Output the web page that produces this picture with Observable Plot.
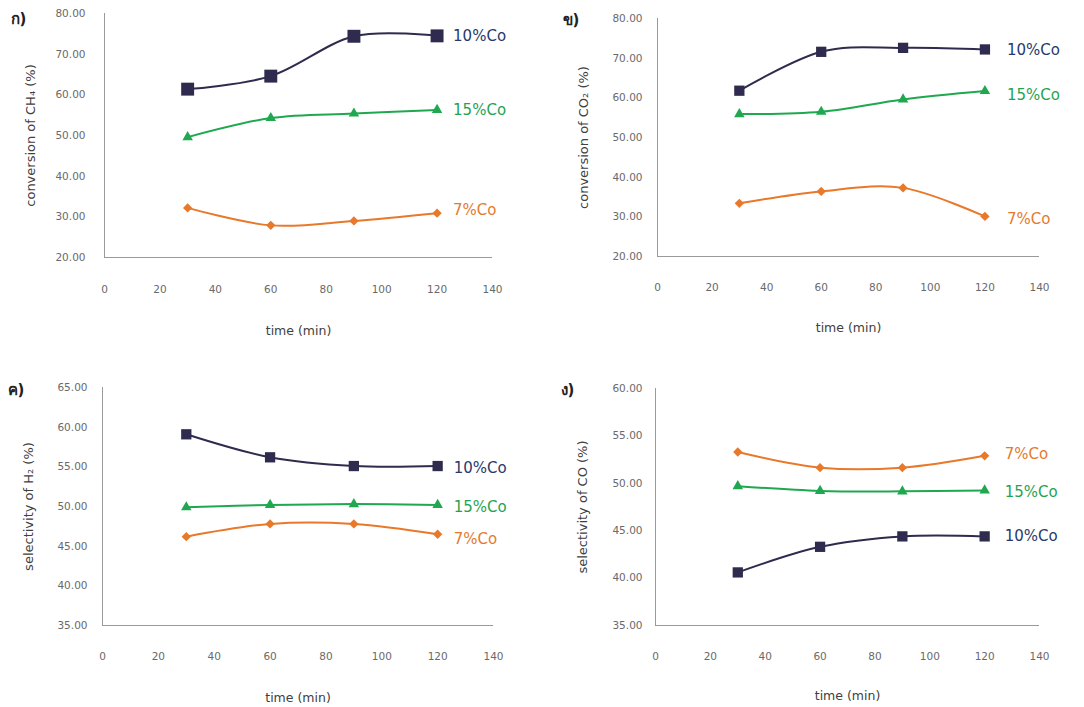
<!DOCTYPE html>
<html><head><meta charset="utf-8">
<script src="https://cdn.jsdelivr.net/npm/d3@7"></script>
<script src="https://cdn.jsdelivr.net/npm/@observablehq/plot@0.6"></script>
<style>
body{margin:0;background:#fff;}
#wrap{position:relative;width:1084px;height:707px;background:#fff;overflow:hidden;}
.panel{position:absolute;}
</style></head><body><div id="wrap"></div>
<script>
// ---- data ----
const times = [30, 60, 90, 120];
const seriesNames = ["10%Co", "15%Co", "7%Co"];
const xTicks = [0, 20, 40, 60, 80, 100, 120, 140];

const ch4_10 = [61.4, 64.6, 74.4, 74.5];
const ch4_15 = [49.6, 54.3, 55.4, 56.3];
const ch4_7  = [32.2, 27.9, 29.0, 30.9];
const ch4Ticks = [20, 30, 40, 50, 60, 70, 80];

const co2_10 = [61.8, 71.6, 72.6, 72.2];
const co2_15 = [55.9, 56.5, 59.6, 61.7];
const co2_7  = [33.4, 36.4, 37.3, 30.1];
const co2Ticks = [20, 30, 40, 50, 60, 70, 80];

const h2_10 = [59.1, 56.2, 55.1, 55.1];
const h2_15 = [49.9, 50.2, 50.3, 50.2];
const h2_7  = [46.2, 47.8, 47.8, 46.5];
const h2Ticks = [35, 40, 45, 50, 55, 60, 65];

const co_10 = [40.6, 43.3, 44.4, 44.4];
const co_15 = [49.7, 49.2, 49.15, 49.25];
const co_7  = [53.3, 51.65, 51.65, 52.9];
const coTicks = [35, 40, 45, 50, 55, 60];

// ---- styles ----
const FONT = "'DejaVu Sans', 'Noto Sans', sans-serif";
const lineColors = {"10%Co": "#2f2b4e", "15%Co": "#1fa84f", "7%Co": "#e8782a"};
const labelColors = {"10%Co": "#283a6c", "15%Co": "#1fa452", "7%Co": "#e47b30"};
const symbols = {"10%Co": "square", "15%Co": "triangle", "7%Co": "diamond2"};

const panels = [
  {left: 0, top: 0, width: 540, height: 345, mL: 104, mR: 48, mT: 13, mB: 88,
   ticks: ch4Ticks, values: [ch4_10, ch4_15, ch4_7], tag: "ก)", tagDx: -94, tagDy: 6,
   yTitle: "conversion of CH\u2084 (%)", yTitleDx: -74, tickPad: 19, xPad: 28, xTitleDy: 73,
   r: {"10%Co": 7.3, "15%Co": 3.9, "7%Co": 4.2}, lab: {"10%Co": 0, "15%Co": 0, "7%Co": -3}, labDx: 16},
  {left: 540, top: 0, width: 544, height: 345, mL: 117, mR: 45, mT: 18, mB: 89,
   ticks: co2Ticks, values: [co2_10, co2_15, co2_7], tag: "ข)", tagDx: -95, tagDy: 2,
   yTitle: "conversion of CO\u2082 (%)", yTitleDx: -74, tickPad: 15, xPad: 27, xTitleDy: 71,
   r: {"10%Co": 5.8, "15%Co": 3.9, "7%Co": 4.2}, lab: {"10%Co": 1, "15%Co": 4, "7%Co": 3}, labDx: 22},
  {left: 0, top: 370, width: 540, height: 337, mL: 102, mR: 47, mT: 17, mB: 82,
   ticks: h2Ticks, values: [h2_10, h2_15, h2_7], tag: "ค)", tagDx: -95, tagDy: 3,
   yTitle: "selectivity of H\u2082 (%)", yTitleDx: -74, tickPad: 15, xPad: 27, xTitleDy: 72,
   r: {"10%Co": 5.8, "15%Co": 3.9, "7%Co": 4.2}, lab: {"10%Co": 2, "15%Co": 2, "7%Co": 5}, labDx: 16},
  {left: 540, top: 370, width: 544, height: 337, mL: 115, mR: 45, mT: 18, mB: 82,
   ticks: coTicks, values: [co_10, co_15, co_7], tag: "ง)", tagDx: -95, tagDy: 2,
   yTitle: "selectivity of CO (%)", yTitleDx: -73, tickPad: 13, xPad: 27, xTitleDy: 70,
   r: {"10%Co": 5.8, "15%Co": 3.9, "7%Co": 4.2}, lab: {"10%Co": 0, "15%Co": 2, "7%Co": -2}, labDx: 20}
];

const wrap = document.getElementById("wrap");

for (const p of panels) {
  const yMin = p.ticks[0], yMax = p.ticks[p.ticks.length - 1];
  const marks = [
    Plot.axisX({ticks: xTicks, tickSize: 0, tickPadding: p.xPad, fontSize: 10.5, fill: "#6a6a6a", label: null}),
    Plot.axisY({ticks: p.ticks, tickSize: 0, tickPadding: p.tickPad, fontSize: 10.5, fill: "#6a6a6a",
                tickFormat: d => d.toFixed(2), label: null}),
    Plot.ruleX([0], {stroke: "#9a9a9a", strokeWidth: 1}),
    Plot.ruleY([yMin], {stroke: "#9a9a9a", strokeWidth: 1})
  ];
  seriesNames.forEach((name, i) => {
    const rows = times.map((t, j) => ({t, v: p.values[i][j]}));
    marks.push(Plot.line(rows, {x: "t", y: "v", stroke: lineColors[name], strokeWidth: 2,
                                curve: "cardinal", tension: 0}));
    marks.push(Plot.dot(rows, {x: "t", y: "v", symbol: symbols[name], fill: lineColors[name],
                               stroke: "none", r: p.r[name]}));
    marks.push(Plot.text([rows[rows.length - 1]], {x: "t", y: "v", text: () => name,
                               fill: labelColors[name], fontSize: 15, textAnchor: "start",
                               dx: p.labDx, dy: p.lab[name]}));
  });
  marks.push(Plot.text([p.yTitle], {frameAnchor: "left", rotate: -90, dx: p.yTitleDx,
                                    textAnchor: "middle", lineAnchor: "middle",
                                    fontSize: 13, fill: "#404040"}));
  marks.push(Plot.text(["time (min)"], {frameAnchor: "bottom", dy: p.xTitleDy, lineAnchor: "middle",
                                        fontSize: 12.5, fill: "#404040"}));
  marks.push(Plot.text([p.tag], {frameAnchor: "top-left", dx: p.tagDx, dy: p.tagDy,
                                 textAnchor: "start", lineAnchor: "middle",
                                 fontSize: 15, fontWeight: "bold", fill: "#222"}));

  const chart = Plot.plot({
    width: p.width, height: p.height,
    marginLeft: p.mL, marginRight: p.mR, marginTop: p.mT, marginBottom: p.mB,
    x: {domain: [0, 140]},
    y: {domain: [yMin, yMax]},
    style: {fontFamily: FONT, background: "transparent", overflow: "visible"},
    marks
  });
  chart.classList.add("panel");
  chart.style.left = p.left + "px";
  chart.style.top = p.top + "px";
  wrap.appendChild(chart);
}
</script>
</body></html>
